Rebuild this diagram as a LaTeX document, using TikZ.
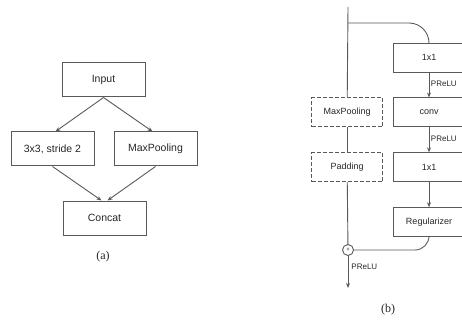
\documentclass[tikz,border=0pt]{standalone}
\usepackage{fontspec}
\setmainfont{Liberation Sans}
\newfontfamily\capfont{Liberation Serif}
\usetikzlibrary{arrows.meta, positioning}

\begin{document}
\begin{tikzpicture}[
        x=1pt, y=-1pt,
        box/.style={rectangle, draw=black!65, line width=1pt, minimum height=34pt, minimum width=83pt, inner sep=0pt, text=black!85, font=\fontsize{10.5}{12}\selectfont},
        blk/.style={rectangle, draw=black!65, line width=0.9pt, minimum height=29pt, minimum width=72pt, inner sep=0pt, text=black!85, font=\fontsize{9}{11}\selectfont},
        dblk/.style={blk, dash pattern=on 4pt off 2pt, minimum width=71pt},
        arrow/.style={-{Stealth[length=5pt, width=4pt]}, draw=black!65, line width=0.9pt},
        line/.style={draw=black!65, line width=0.9pt},
        act/.style={inner sep=1.5pt, text=black!85, font=\fontsize{8}{9}\selectfont},
        caption/.style={text=black!85, font=\capfont\fontsize{12}{14}\selectfont}
    ]
        \useasboundingbox (0,0) rectangle (462,320);
        \clip (0,0) rectangle (462,320);

        % (a) Nodes
        \node[box] (input) at (103.5,80) {Input};
        \node[box, below=34pt of input, xshift=-51pt] (stride) {3x3, stride 2};
        \node[box, right=19pt of stride] (pool) {MaxPooling};
        \node[box, below=34pt of stride, xshift=52pt] (concat) {Concat};
        \node[caption] (capa) at (103,257) {(a)};

        % (a) Arrows
        \draw[arrow] (input.south) -- ([xshift=3pt]stride.north);
        \draw[arrow] (input.south) -- ([xshift=-3pt]pool.north);
        \draw[arrow] (stride.south) -- ([xshift=-3pt]concat.north);
        \draw[arrow] (pool.south) -- ([xshift=3pt]concat.north);

        % (b) Nodes
        \coordinate (top) at (348,7);
        \coordinate (split) at (348,23);
        \node[blk] (conva) at (429,57.5) {1x1};
        \node[blk, below=25pt of conva] (convb) {conv};
        \node[blk, below=25pt of convb] (convc) {1x1};
        \node[blk, below=25pt of convc] (reg) {Regularizer};
        \node[dblk, left=9.5pt of convb] (mpool) {MaxPooling};
        \node[dblk, left=9.5pt of convc] (pad) {Padding};
        \node[circle, draw=black!65, line width=0.9pt, minimum size=11pt, inner sep=0pt, text=black!85, font=\fontsize{6}{6}\selectfont] (sum) at (348,250) {+};
        \coordinate (out) at (348,288);
        \node[caption] (capb) at (388,310) {(b)};

        % (b) Arrows
        \draw[line] (top) -- (mpool);
        \draw[line] (mpool) -- (pad);
        \draw[line] (pad) -- (sum);
        \draw[line, rounded corners=20pt] (split) -| (conva.north);
        \draw[arrow] (conva) -- (convb) node[act, midway, right, yshift=1.5pt] {PReLU};
        \draw[arrow] (convb) -- (convc) node[act, midway, right, yshift=1.5pt] {PReLU};
        \draw[arrow] (convc) -- (reg);
        \draw[line, rounded corners=14pt] (reg.south) |- (sum.east);
        \draw[arrow] (sum) -- (out) node[act, pos=0.35, right, xshift=1.5pt] {PReLU};
    \end{tikzpicture}
\end{document}
